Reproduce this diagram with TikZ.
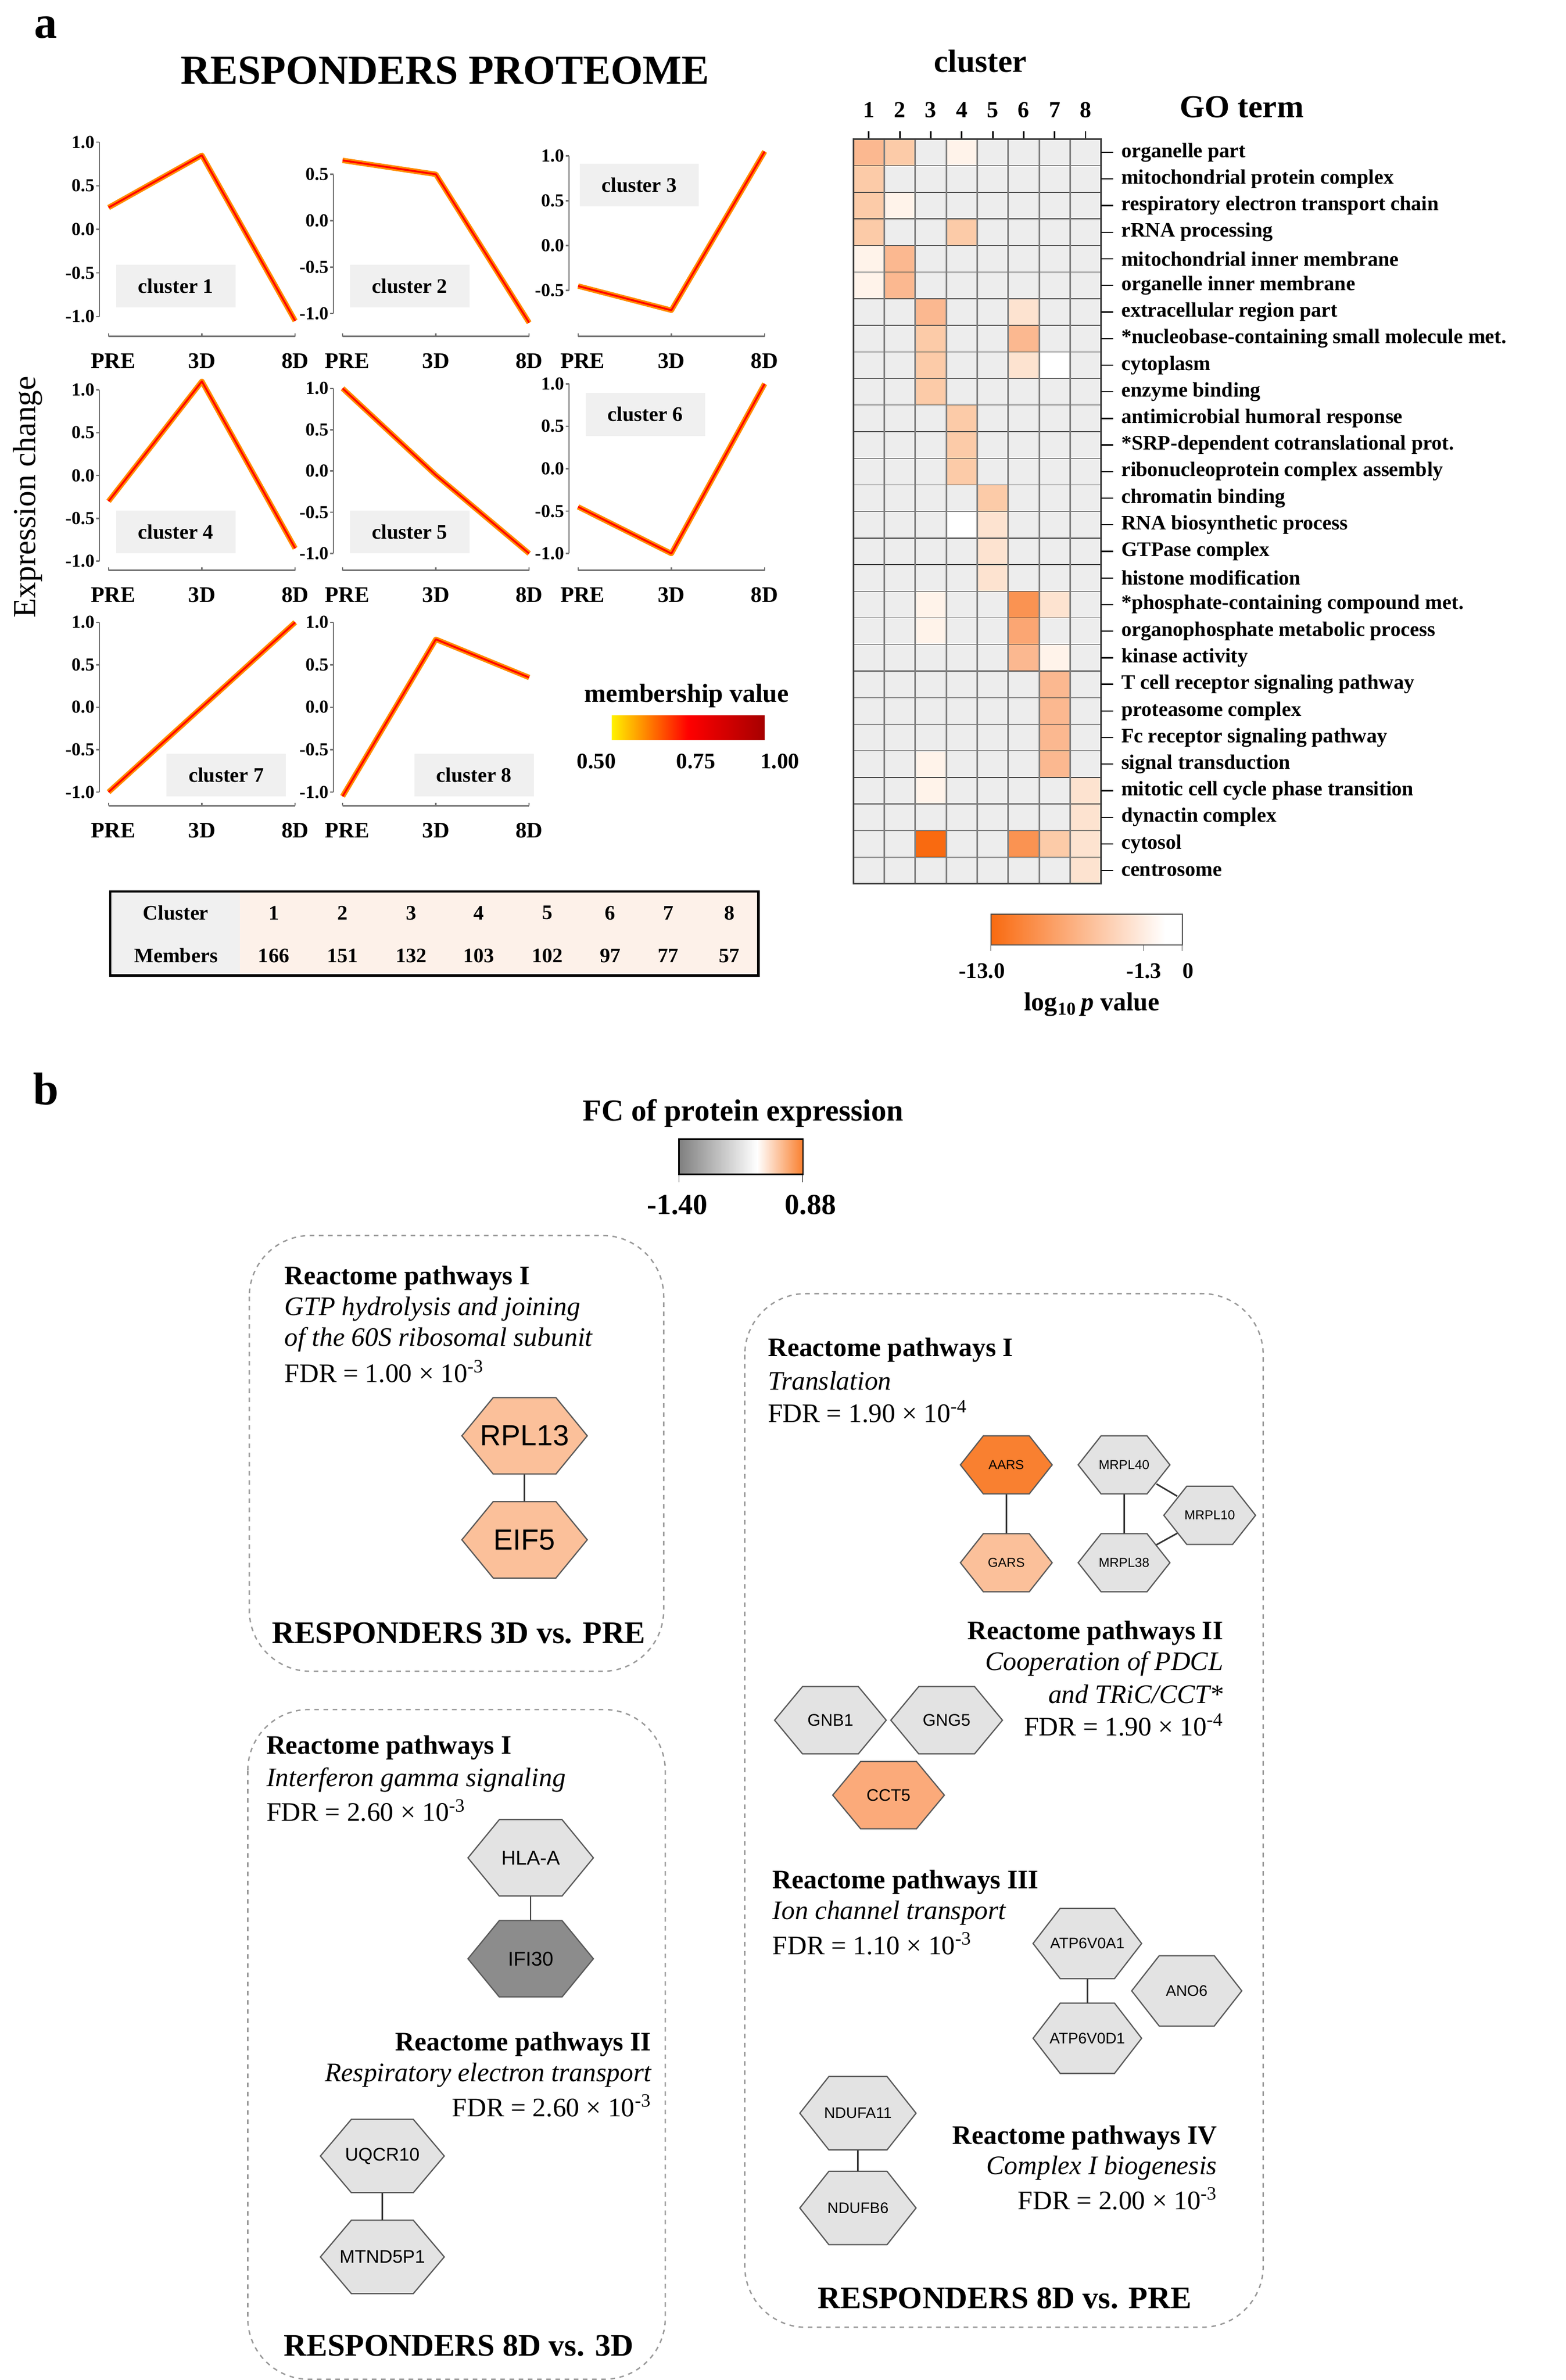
\documentclass[tikz,border=0pt]{standalone}
\usepackage{fontspec}
\setmainfont{Liberation Serif}
\newfontfamily\hexfont{Liberation Sans}
\begin{document}
\definecolor{hg}{HTML}{EDEDED}\definecolor{h0}{HTML}{FFFFFF}\definecolor{h1}{HTML}{FFF3EA}
\definecolor{h2}{HTML}{FDE3D0}\definecolor{h3}{HTML}{FCCBA8}\definecolor{h4}{HTML}{FBB890}
\definecolor{h5}{HTML}{FBA673}\definecolor{h6}{HTML}{FA9352}\definecolor{h7}{HTML}{F96A10}
\definecolor{lbg}{HTML}{F0F0F0}\definecolor{peach}{HTML}{FDF1E9}
\definecolor{hexo}{HTML}{FBC09A}\definecolor{hexd}{HTML}{F98030}\definecolor{hexm}{HTML}{FBAA7A}
\definecolor{hexg}{HTML}{E3E3E3}\definecolor{hexdg}{HTML}{8C8C8C}
\newcommand\hexn[7]{%
\begin{scope}[shift={(#2)}]\draw[draw=black!65,line width=0.8,fill=#5] (-#3/2,0) -- (-#3/4,-#4/2) -- (#3/4,-#4/2) -- (#3/2,0) -- (#3/4,#4/2) -- (-#3/4,#4/2) -- cycle;\end{scope}%
\node[inner sep=0,minimum width={0.7*#3pt},minimum height={#4pt},font=\hexfont#7] (#1) at (#2) {#6};}
\begin{tikzpicture}[x=1pt,y=-1pt,
  lab/.style={font=\bfseries\fontsize{12}{13}\selectfont},
  go/.style={font=\bfseries\fontsize{13.5}{15}\selectfont,anchor=west,inner sep=0},
  bt/.style={font=\bfseries\fontsize{17.5}{19}\selectfont,inner sep=0},
  it/.style={font=\itshape\fontsize{17.5}{19}\selectfont,inner sep=0},
  ft/.style={font=\fontsize{17.5}{19}\selectfont,inner sep=0},
  big/.style={font=\bfseries\fontsize{20.5}{22}\selectfont,inner sep=0},
  cbox/.style={fill=lbg,minimum width=78,minimum height=28,font=\bfseries\fontsize{13.5}{15}\selectfont},
  pbox/.style={draw=black!40,dashed,line width=0.9,rounded corners=40},
  edge/.style={draw=black!80,line width=1}]
\useasboundingbox (0,0) rectangle (1024,1556.5);
\fill[white] (0,0) rectangle (1024,1556.5);
% panel a
\node[font=\bfseries\fontsize{30}{32}\selectfont] (la) at (30,18) {a};
\node[font=\bfseries\fontsize{27}{29}\selectfont] (ttl) at (291,46) {RESPONDERS PROTEOME};
\node[rotate=90,font=\fontsize{21}{23}\selectfont] (ec) at (18,325) {Expression change};
\foreach \a/\r/\tmin/\tmax/\tp/\bt/\va/\vb/\vc in {65/220/-1/1/93/207/0.25/0.85/-1.05,
  218/220/-1/0.5/114/205/0.65/0.5/-1.1, 372/220/-0.5/1/102/190/-0.45/-0.72/1.05,
  65/373/-1/1/255/367/-0.3/1.1/-0.85, 218/373/-1/1/254/362/1.0/-0.05/-1.0,
  372/373/-1/1/251/362/-0.45/-1.0/1.0, 65/527/-1/1/407/518/-1.0/0.0/1.0,
  218/527/-1/1/407/518/-1.05/0.8/0.35}{
  \pgfmathsetmacro\ya{\tp+(\tmax-\va)/(\tmax-\tmin)*(\bt-\tp)}
  \pgfmathsetmacro\yb{\tp+(\tmax-\vb)/(\tmax-\tmin)*(\bt-\tp)}
  \pgfmathsetmacro\yc{\tp+(\tmax-\vc)/(\tmax-\tmin)*(\bt-\tp)}
  \draw[black!55,line width=0.9] (\a,\tp) -- (\a,\bt);
  \draw[black!55,line width=0.9] ({\a+6},\r) -- ({\a+128},\r);
  \foreach \dx in {6,67,128}{\draw[black!55,line width=0.9] ({\a+\dx},\r) -- ({\a+\dx},{\r-2});}
  \node[lab,font=\bfseries\fontsize{14.5}{15}\selectfont] at ({\a+9},{\r+16}) {PRE};
  \node[lab,font=\bfseries\fontsize{14.5}{15}\selectfont] at ({\a+67},{\r+16}) {3D};
  \node[lab,font=\bfseries\fontsize{14.5}{15}\selectfont] at ({\a+128},{\r+16}) {8D};
  \foreach \t in {1.0,0.5,0.0,-0.5,-1.0}{
    \pgfmathparse{and(\t<\tmax+0.01,\t>\tmin-0.01)}
    \ifdim\pgfmathresult pt>0.5pt
      \pgfmathsetmacro\yt{\tp+(\tmax-\t)/(\tmax-\tmin)*(\bt-\tp)}
      \draw[black!55,line width=0.9] (\a,\yt) -- ({\a-2},\yt);
      \node[lab,anchor=east,inner sep=1] at ({\a-2},\yt) {\t};
    \fi}
  \draw[orange!90!yellow,line width=3.5,line join=round] ({\a+6},\ya) -- ({\a+67},\yb) -- ({\a+128},\yc);
  \draw[red,line width=1.2,line join=round] ({\a+6},\ya) -- ({\a+67},\yb) -- ({\a+128},\yc);
}
\node[cbox] (c1) at (115,187) {cluster 1};
\node[cbox] (c2) at (268,187) {cluster 2};
\node[cbox] (c3) at (418,121) {cluster 3};
\node[cbox] (c4) at (115,348) {cluster 4};
\node[cbox] (c5) at (268,348) {cluster 5};
\node[cbox] (c6) at (422,271) {cluster 6};
\node[cbox] (c7) at (148,507) {cluster 7};
\node[cbox] (c8) at (310,507) {cluster 8};
% membership
\node[bt,font=\bfseries\fontsize{17}{18}\selectfont] (mv) at (449,455) {membership value};
\shade[left color=yellow!90!orange,right color=red!65!black,middle color=red] (400,468) rectangle (500,484);
\node[lab,font=\bfseries\fontsize{14.5}{15}\selectfont] (m1) at (390,498) {0.50};
\node[lab,font=\bfseries\fontsize{14.5}{15}\selectfont] (m2) at (455,498) {0.75};
\node[lab,font=\bfseries\fontsize{14.5}{15}\selectfont] (m3) at (510,498) {1.00};
% table
\fill[lbg] (72,583) rectangle (157,638);
\fill[peach] (157,583) rectangle (496,638);
\draw[line width=1.6] (72,583) rectangle (496,638);
\node[lab,font=\bfseries\fontsize{13.5}{15}\selectfont] (tc) at (115,597) {Cluster};
\node[lab,font=\bfseries\fontsize{13.5}{15}\selectfont] (tm) at (115,625) {Members};
\foreach \x/\c/\m in {179/1/166,224/2/151,269/3/132,313/4/103,358/5/102,399/6/97,437/7/77,477/8/57}{
  \node[lab,font=\bfseries\fontsize{13.5}{15}\selectfont] at (\x,597) {\c};
  \node[lab,font=\bfseries\fontsize{13.5}{15}\selectfont] at (\x,625) {\m};}
% heatmap
\node[bt,font=\bfseries\fontsize{21}{23}\selectfont] (cl) at (641,40) {cluster};
\node[bt,font=\bfseries\fontsize{21}{23}\selectfont] (gt) at (812,70) {GO term};
\foreach \c in {1,...,8}{
  \node[bt,font=\bfseries\fontsize{15}{17}\selectfont] at ({558+20.25*(\c-0.5)},72) {\c};
  \draw[line width=1] ({558+20.25*(\c-0.5)},86) -- ({558+20.25*(\c-0.5)},91);}
\foreach \r in {1,...,28}{\foreach \c in {1,...,8}{
  \fill[hg] ({558+20.25*(\c-1)},{91+17.393*(\r-1)}) rectangle ++(20.25,17.393);}}
\foreach \r/\c/\col in {1/1/h4,1/2/h3,1/4/h1,2/1/h3,3/1/h3,3/2/h1,4/1/h3,4/4/h3,5/1/h1,5/2/h4,
 6/1/h1,6/2/h4,7/3/h4,7/6/h2,8/3/h3,8/6/h4,9/3/h3,9/6/h2,9/7/h0,10/3/h3,11/4/h3,12/4/h3,13/4/h3,
 14/5/h3,15/4/h0,15/5/h2,16/5/h2,17/5/h2,18/3/h1,18/6/h6,18/7/h2,19/3/h1,19/6/h5,20/6/h4,20/7/h1,
 21/7/h4,22/7/h4,23/7/h4,24/7/h4,24/3/h1,25/3/h1,25/8/h2,26/8/h2,27/3/h7,27/6/h6,27/7/h3,27/8/h2,28/8/h2}{
  \fill[\col] ({558+20.25*(\c-1)},{91+17.393*(\r-1)}) rectangle ++(20.25,17.393);}
\foreach \r in {1,...,27}{\draw[black!75,line width=0.5] (558,{91+17.393*\r}) -- (720,{91+17.393*\r});}
\foreach \c in {1,...,7}{\draw[black!50,line width=1.1] ({558+20.25*\c},91) -- ({558+20.25*\c},578);}
\draw[black!75,line width=1] (558,91) rectangle (720,578);
\foreach \r/\t in {1/organelle part,2/mitochondrial protein complex,3/respiratory electron transport chain,
 4/rRNA processing,5/mitochondrial inner membrane,6/organelle inner membrane,7/extracellular region part,
 8/*nucleobase-containing small molecule met.,9/cytoplasm,10/enzyme binding,11/antimicrobial humoral response,
 12/*SRP-dependent cotranslational prot.,13/ribonucleoprotein complex assembly,14/chromatin binding,
 15/RNA biosynthetic process,16/GTPase complex,17/histone modification,18/*phosphate-containing compound met.,
 19/organophosphate metabolic process,20/kinase activity,21/T cell receptor signaling pathway,
 22/proteasome complex,23/Fc receptor signaling pathway,24/signal transduction,
 25/mitotic cell cycle phase transition,26/dynactin complex,27/cytosol,28/centrosome}{
  \draw[line width=0.8] (720,{91+17.393*(\r-0.5)}) -- (728,{91+17.393*(\r-0.5)});
  \node[go] at (733,{91+17.393*(\r-0.5)}) {\t};}
\shade[left color=h7,right color=white] (648,598) rectangle (762,618);
\fill[white] (762,598) rectangle (773,618);
\draw[black!70,line width=0.7] (648,598) rectangle (773,618);
\foreach \x in {648,748,773}{\draw[black!70] (\x,618) -- (\x,622);}
\node[lab,font=\bfseries\fontsize{14.5}{15}\selectfont] (p1) at (642,635) {-13.0};
\node[lab,font=\bfseries\fontsize{14.5}{15}\selectfont] (p2) at (748,635) {-1.3};
\node[lab,font=\bfseries\fontsize{14.5}{15}\selectfont] (p3) at (777,635) {0};
\node[bt,font=\bfseries\fontsize{17}{18}\selectfont] (pv) at (714,657) {log\textsubscript{10}\,\textit{p} value};
% panel b
\node[font=\bfseries\fontsize{30}{32}\selectfont] (lb) at (30,712) {b};
\node[bt,font=\bfseries\fontsize{20}{22}\selectfont] (fc) at (486,728) {FC of protein expression};
\shade[left color=black!50,right color=white] (444,745) rectangle (495,768);
\shade[left color=white,right color=hexd] (495,745) rectangle (525,768);
\draw[line width=0.8] (444,745) rectangle (525,768);
\draw (444,768) -- (444,773) (525,768) -- (525,773);
\node[bt,font=\bfseries\fontsize{19}{20}\selectfont] (f1) at (443,788) {-1.40};
\node[bt,font=\bfseries\fontsize{19}{20}\selectfont] (f2) at (530,788) {0.88};
% boxes
\draw[pbox] (163,808) rectangle (434,1093);
\draw[pbox] (162,1118) rectangle (435,1556);
\draw[pbox] (487,846) rectangle (826,1522);
% box 1
\node[bt,anchor=west] (b1a) at (186,836) {Reactome pathways I};
\node[it,anchor=west] (b1b) at (186,856) {GTP hydrolysis and joining};
\node[it,anchor=west] (b1c) at (186,876) {of the 60S ribosomal subunit};
\node[ft,anchor=west] (b1d) at (186,897) {FDR = 1.00 × 10\textsuperscript{-3}};
\hexn{rpl}{343,939}{82}{50}{hexo}{RPL13}{\fontsize{19}{21}\selectfont}
\hexn{eif}{343,1007}{82}{50}{hexo}{EIF5}{\fontsize{19}{21}\selectfont}
\draw[edge] (rpl) -- (eif);
\node[big] (r1) at (300,1068) {RESPONDERS 3D vs. PRE};
% box 2
\node[bt,anchor=west] (b2a) at (174,1143) {Reactome pathways I};
\node[it,anchor=west] (b2b) at (174,1164) {Interferon gamma signaling};
\node[ft,anchor=west] (b2c) at (174,1184) {FDR = 2.60 × 10\textsuperscript{-3}};
\hexn{hla}{347,1215}{82}{50}{hexg}{HLA-A}{\fontsize{13}{15}\selectfont}
\hexn{ifi}{347,1281}{82}{50}{hexdg}{IFI30}{\fontsize{13}{15}\selectfont}
\draw[edge] (hla) -- (ifi);
\node[bt,anchor=east] (b2d) at (426,1337) {Reactome pathways II};
\node[it,anchor=east] (b2e) at (426,1357) {Respiratory electron transport};
\node[ft,anchor=east] (b2f) at (426,1377) {FDR = 2.60 × 10\textsuperscript{-3}};
\hexn{uq}{250,1410}{81}{48}{hexg}{UQCR10}{\fontsize{12}{14}\selectfont}
\hexn{mt}{250,1476}{81}{48}{hexg}{MTND5P1}{\fontsize{12}{14}\selectfont}
\draw[edge] (uq) -- (mt);
\node[big] (r2) at (300,1534) {RESPONDERS 8D vs. 3D};
% box 3
\node[bt,anchor=west] (b3a) at (502,883) {Reactome pathways I};
\node[it,anchor=west] (b3b) at (502,903) {Translation};
\node[ft,anchor=west] (b3c) at (502,923) {FDR = 1.90 × 10\textsuperscript{-4}};
\hexn{aars}{658,958}{60}{38}{hexd}{AARS}{\fontsize{8.5}{10}\selectfont}
\hexn{gars}{658,1022}{60}{38}{hexo}{GARS}{\fontsize{8.5}{10}\selectfont}
\hexn{m40}{735,958}{60}{38}{hexg}{MRPL40}{\fontsize{8.5}{10}\selectfont}
\hexn{m10}{791,991}{60}{38}{hexg}{MRPL10}{\fontsize{8.5}{10}\selectfont}
\hexn{m38}{735,1022}{60}{38}{hexg}{MRPL38}{\fontsize{8.5}{10}\selectfont}
\draw[edge] (aars) -- (gars);
\draw[edge] (m40) -- (m38);
\draw[edge] (m40) -- (m10);
\draw[edge] (m38) -- (m10);
\node[bt,anchor=east] (b3d) at (800,1068) {Reactome pathways II};
\node[it,anchor=east] (b3e) at (800,1088) {Cooperation of PDCL};
\node[it,anchor=east] (b3f) at (800,1108) {and TRiC/CCT*};
\node[ft,anchor=east] (b3g) at (800,1128) {FDR = 1.90 × 10\textsuperscript{-4}};
\hexn{gnb}{543,1125}{73}{44}{hexg}{GNB1}{\fontsize{11}{13}\selectfont}
\hexn{gng}{619,1125}{73}{44}{hexg}{GNG5}{\fontsize{11}{13}\selectfont}
\hexn{cct}{581,1174}{73}{44}{hexm}{CCT5}{\fontsize{11}{13}\selectfont}
\node[bt,anchor=west] (b3h) at (505,1231) {Reactome pathways III};
\node[it,anchor=west] (b3i) at (505,1251) {Ion channel transport};
\node[ft,anchor=west] (b3j) at (505,1271) {FDR = 1.10 × 10\textsuperscript{-3}};
\hexn{atpa}{711,1271}{71}{46}{hexg}{ATP6V0A1}{\fontsize{10}{12}\selectfont}
\hexn{atpd}{711,1333}{71}{46}{hexg}{ATP6V0D1}{\fontsize{10}{12}\selectfont}
\hexn{ano}{776,1302}{72}{46}{hexg}{ANO6}{\fontsize{10}{12}\selectfont}
\draw[edge] (atpa) -- (atpd);
\hexn{nda}{561,1382}{76}{48}{hexg}{NDUFA11}{\fontsize{10}{12}\selectfont}
\hexn{ndb}{561,1444}{76}{48}{hexg}{NDUFB6}{\fontsize{10}{12}\selectfont}
\draw[edge] (nda) -- (ndb);
\node[bt,anchor=east] (b3k) at (796,1398) {Reactome pathways IV};
\node[it,anchor=east] (b3l) at (796,1418) {Complex I biogenesis};
\node[ft,anchor=east] (b3m) at (796,1438) {FDR = 2.00 × 10\textsuperscript{-3}};
\node[big] (r3) at (657,1503) {RESPONDERS 8D vs. PRE};
\end{tikzpicture}
\end{document}
